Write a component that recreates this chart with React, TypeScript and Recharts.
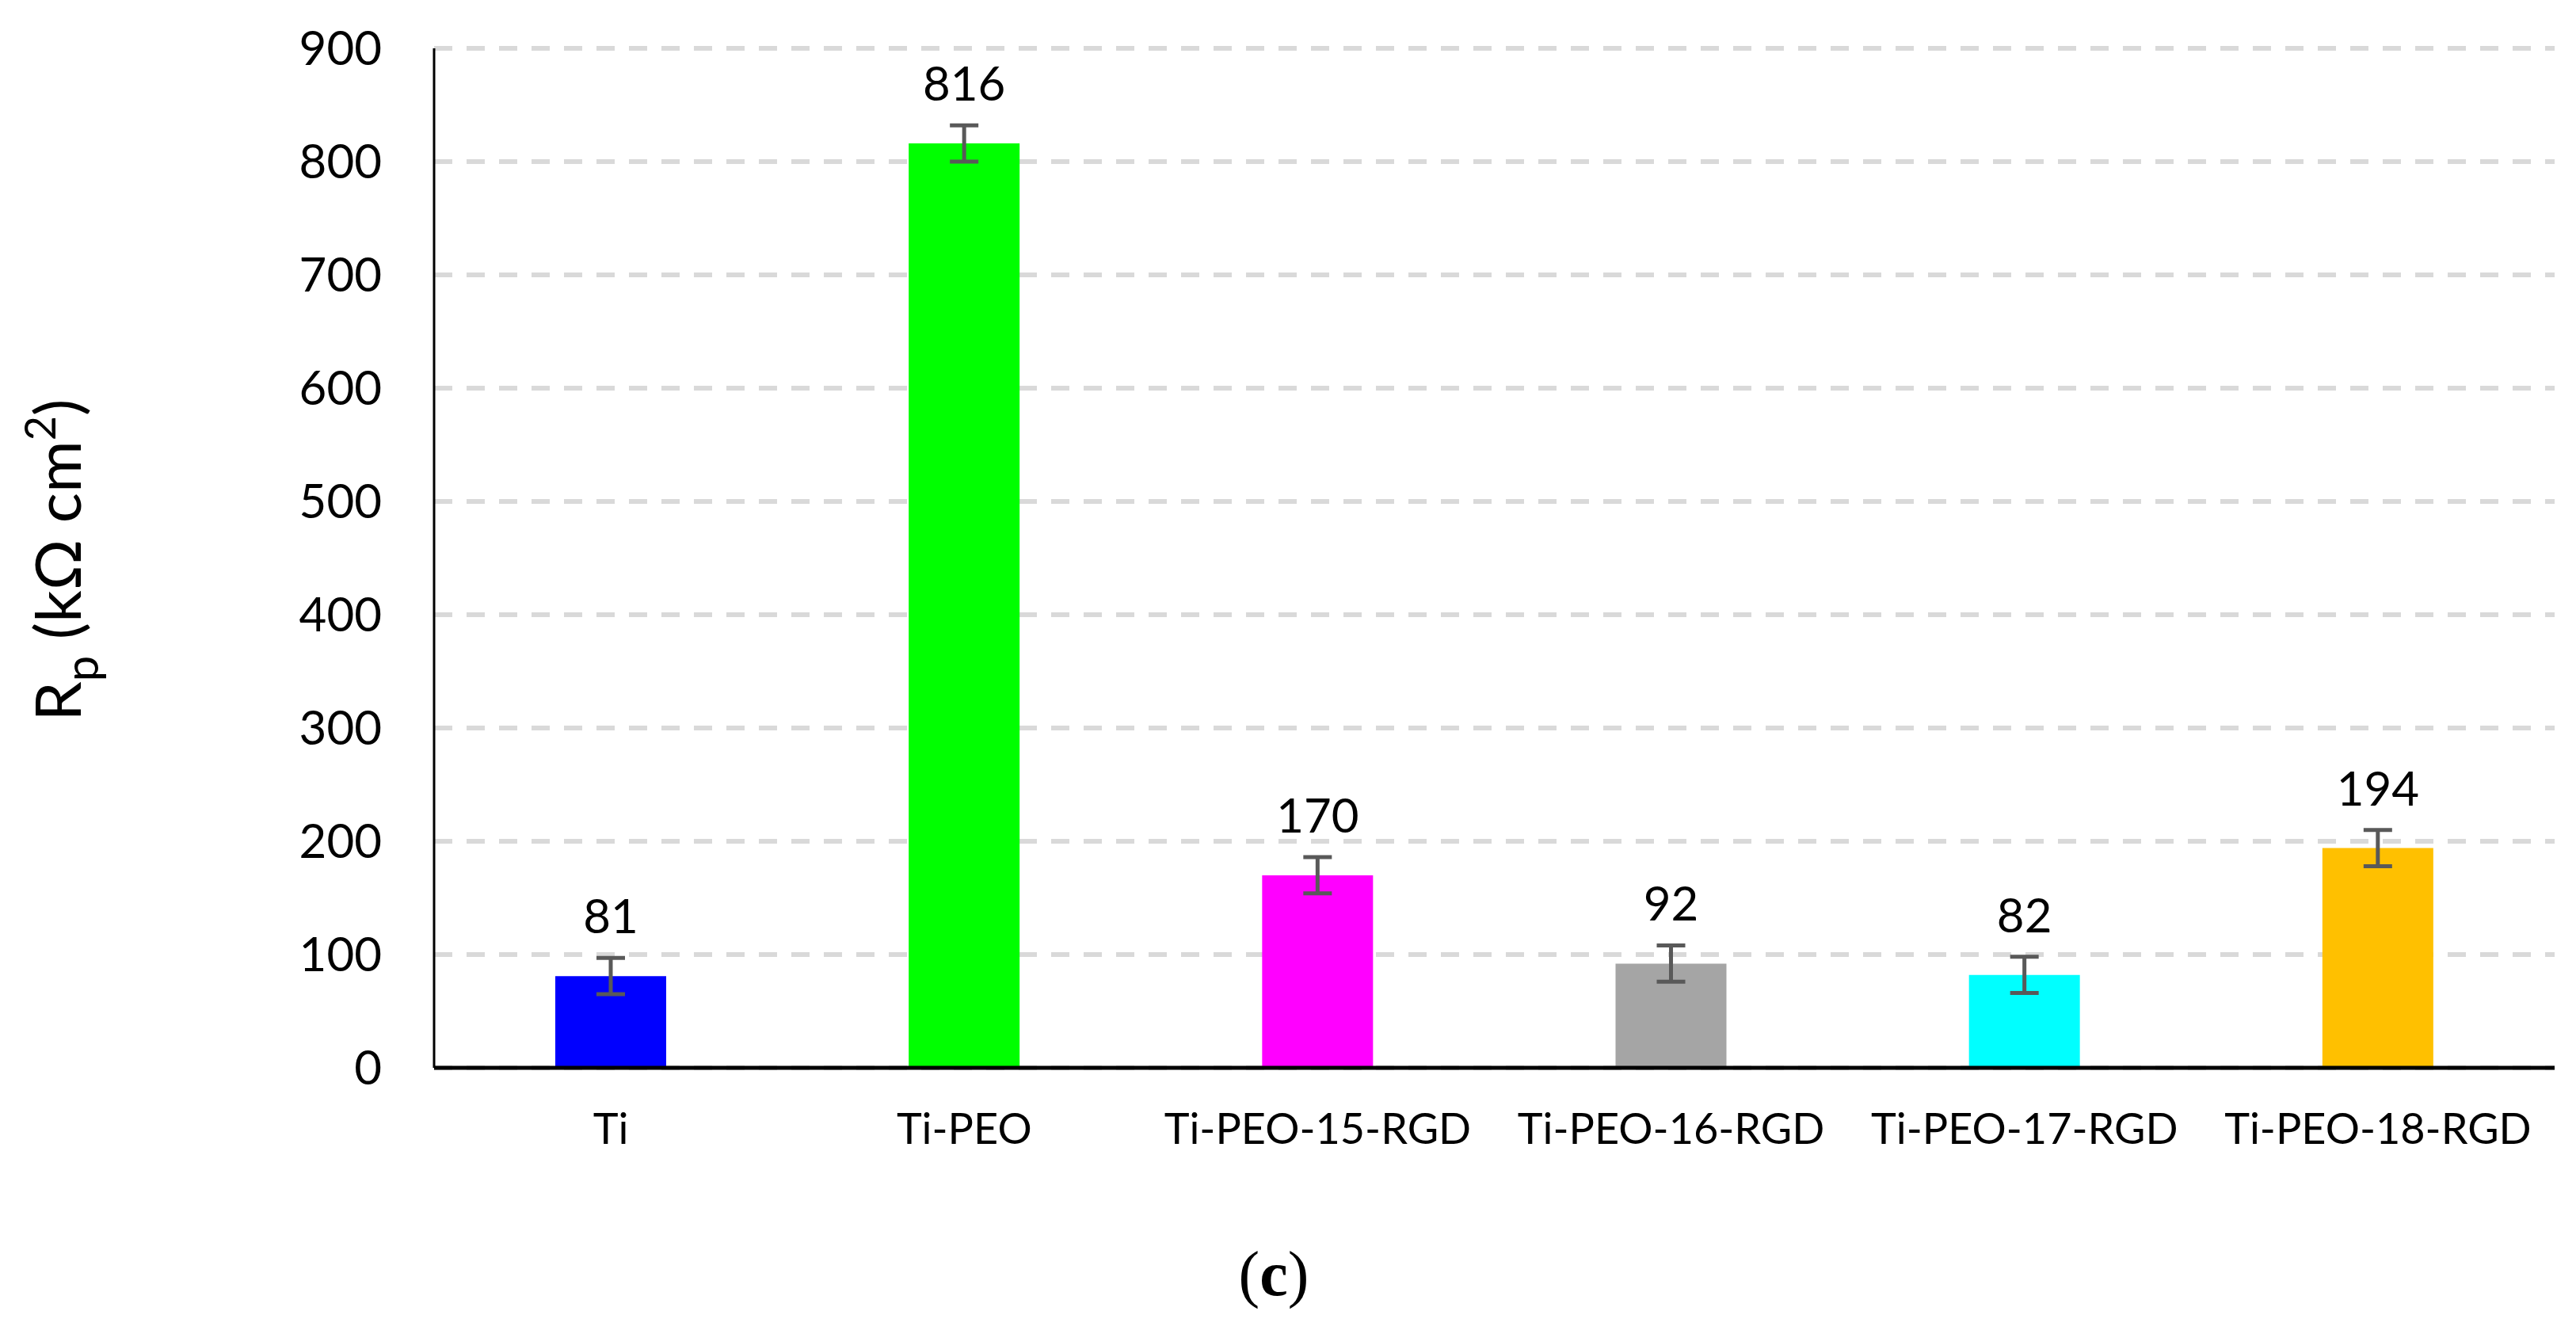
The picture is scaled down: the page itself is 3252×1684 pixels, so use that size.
import { BarChart, Bar, XAxis, YAxis, CartesianGrid, Cell, ErrorBar, LabelList } from "recharts";

const categories = ["Ti", "Ti-PEO", "Ti-PEO-15-RGD", "Ti-PEO-16-RGD", "Ti-PEO-17-RGD", "Ti-PEO-18-RGD"];
const rpValues = [81, 816, 170, 92, 82, 194];
const rpErrors = [16, 16, 16, 16, 16, 16];
const barColors = ["#0000FF", "#00FF00", "#FF00FF", "#A5A5A5", "#00FFFF", "#FFC000"];
const yTicks = [0, 100, 200, 300, 400, 500, 600, 700, 800, 900];

const FONT = "Lato, 'Open Sans', sans-serif";

// y axis title: R with subscript p, unit with superscript 2
const YTitle = () => {
  const cx = 102;
  const cy = 707;
  return (
    <text
      x={cx}
      y={cy}
      transform={`rotate(-90, ${cx}, ${cy})`}
      textAnchor="middle"
      fontFamily={FONT}
      fontSize={80}
      fill="#000"
    >
      <tspan>R</tspan>
      <tspan fontSize={58} dy={22}>p</tspan>
      <tspan dy={-22}> (kΩ cm</tspan>
      <tspan fontSize={54} dy={-32}>2</tspan>
      <tspan dy={32}>)</tspan>
    </text>
  );
};

const App = () => {
  const data = categories.map((name, i) => ({
    name,
    value: rpValues[i],
    err: rpErrors[i],
  }));

  return (
    <div style={{ position: "absolute", left: 0, top: 0, width: 3252, height: 1684, background: "#fff" }}>
      <BarChart
        width={3252}
        height={1684}
        data={data}
        margin={{ top: 61, right: 27, bottom: 236, left: 0 }}
      >
        <CartesianGrid
          horizontal={true}
          vertical={false}
          stroke="#D9D9D9"
          strokeWidth={6}
          strokeDasharray="23 18"
        />
        <XAxis
          dataKey="name"
          height={100}
          interval={0}
          tickLine={false}
          tickSize={0}
          tickMargin={58}
          axisLine={{ stroke: "#000", strokeWidth: 5 }}
          tick={{ fill: "#000", fontSize: 54, fontFamily: FONT }}
        />
        <YAxis
          width={548}
          domain={[0, 900]}
          ticks={yTicks}
          interval={0}
          tickLine={false}
          tickSize={0}
          tickMargin={66}
          axisLine={{ stroke: "#000", strokeWidth: 3 }}
          tick={{ fill: "#000", fontSize: 60, fontFamily: FONT }}
          label={{ content: () => <YTitle /> }}
        />
        <Bar dataKey="value" barSize={140} isAnimationActive={false}>
          {data.map((entry, index) => (
            <Cell key={`cell-${index}`} fill={barColors[index]} />
          ))}
          <ErrorBar
            dataKey="err"
            direction="y"
            width={18}
            stroke="#595959"
            strokeWidth={5}
            isAnimationActive={false}
          />
          <LabelList
            dataKey="value"
            position="top"
            offset={54}
            fill="#000"
            fontSize={60}
            fontFamily={FONT}
          />
        </Bar>
      </BarChart>
      <svg
        width={3252}
        height={1684}
        style={{ position: "absolute", left: 0, top: 0, pointerEvents: "none" }}
      >
        <text
          x={1608}
          y={1635}
          textAnchor="middle"
          fontFamily="'Liberation Serif', 'DejaVu Serif', serif"
          fontSize={80}
          fill="#000"
        >
          (<tspan fontWeight="bold">c</tspan>)
        </text>
      </svg>
    </div>
  );
};

export default App;
